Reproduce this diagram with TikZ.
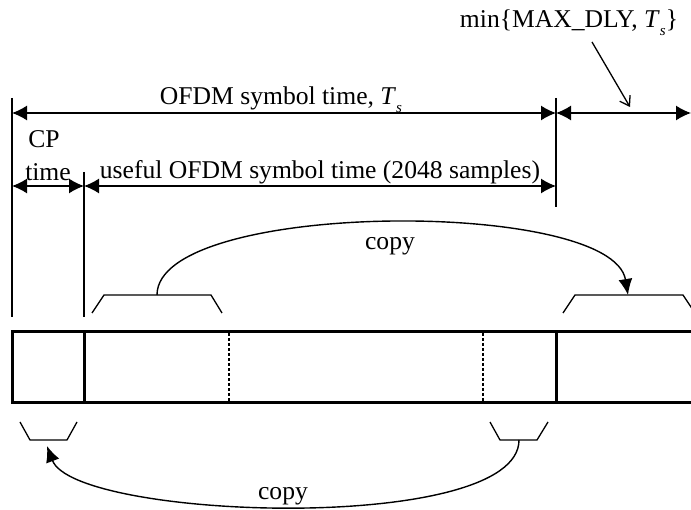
\documentclass[tikz,border=0pt]{standalone}
\usepackage{fontspec}
\setmainfont{Liberation Serif}
\usepackage{tikz}
\usetikzlibrary{arrows.meta}
\newcommand{\symT}{\textit{T}\raisebox{-0.3em}{\fontsize{15}{15}\selectfont\textit{s}}}
\tikzset{
  dimline/.style={line width=1.4pt,{Latex[length=15pt,width=15pt]}-{Latex[length=15pt,width=15pt]}},
  guide/.style={line width=1.3pt},
  frame/.style={line width=3pt},
  cut/.style={line width=2.2pt,dash pattern=on 3pt off 2pt},
  copyarc/.style={line width=1.4pt,-{Latex[length=16pt,width=14pt]}},
  lbl/.style={font=\fontsize{25.6}{30}\selectfont,inner sep=0pt,anchor=base}
}
\begin{document}
\begin{tikzpicture}[x=1pt,y=-1pt]
  \useasboundingbox (0,0) rectangle (691,510);
  \coordinate (L) at (12,113); \coordinate (E) at (556,113); \coordinate (R) at (691,113);
  \coordinate (Lc) at (12,186); \coordinate (Mc) at (84,186); \coordinate (Ec) at (556,186);
  \draw[guide] (12,98) -- (12,317);
  \draw[guide] (84,172) -- (84,317);
  \draw[guide] (556,98) -- (556,207);
  \draw[dimline] (L) -- (E);
  \draw[dimline] (E) -- (R);
  \draw[dimline] (Lc) -- (Mc);
  \draw[dimline] (Mc) -- (Ec);
  \node[lbl] (ofdm) at (281,105) {OFDM symbol time, \symT};
  \node[lbl] (cp) at (44,148) {CP};
  \node[lbl] (cptime) at (48,181) {time};
  \node[lbl] (useful) at (320,179) {useful OFDM symbol time (2048 samples)};
  \node[lbl] (mindly) at (569,28) {min\{MAX\_DLY, \symT\}};
  \draw[line width=1.3pt,-{Straight Barb[length=9pt,width=12pt]}] (592,42) -- (630,107);
  \draw[frame] (700,332) -- (12,332) -- (12,403) -- (700,403);
  \draw[frame] (84,332) -- (84,403);
  \draw[frame] (556,332) -- (556,403);
  \draw[cut] (229,333) -- (229,402);
  \draw[cut] (483,333) -- (483,402);
  \draw[guide] (92,313) -- (104,295) -- (211,295) -- (222,313);
  \draw[guide] (563,313) -- (575,295) -- (683,295) -- (695,313);
  \draw[guide] (20,422) -- (30,440) -- (67,440) -- (77,422);
  \draw[guide] (490,422) -- (500,440) -- (537,440) -- (548,422);
  \coordinate (srcA) at (157,295); \coordinate (dstA) at (628,295);
  \coordinate (srcB) at (519,440); \coordinate (dstB) at (47,446);
  \draw[copyarc] (srcA) .. controls (157,200) and (612,198) .. (dstA);
  \draw[copyarc] (srcB) .. controls (519,535) and (75,520) .. (dstB);
  \node[lbl] (copytop) at (390,250) {copy};
  \node[lbl] (copybot) at (283,500) {copy};
\end{tikzpicture}
\end{document}
